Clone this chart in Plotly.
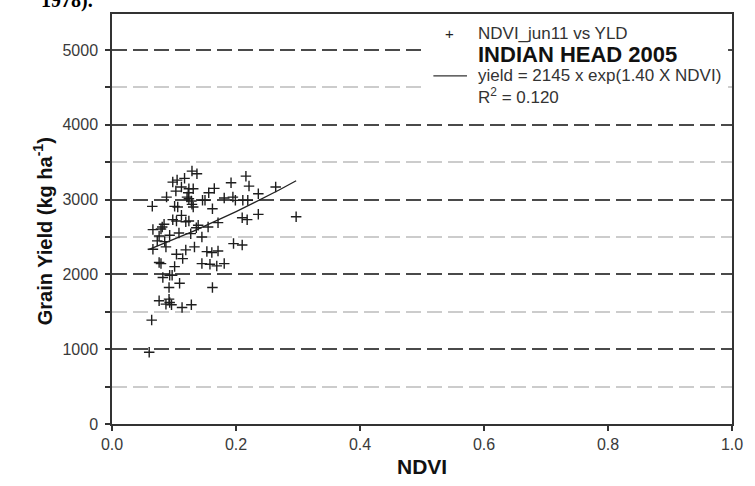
import numpy as np
import plotly.graph_objects as go

# ---- data ----
ndvi = [0.129,0.137,0.216,0.098,0.105,0.117,0.112,0.124,0.131,0.192,
        0.221,0.103,0.123,0.165,0.156,0.088,0.121,0.124,0.128,0.146,
        0.150,0.181,0.195,0.199,0.211,0.219,0.236,0.264,0.129,0.131,
        0.101,0.106,0.065,0.162,0.210,0.218,0.236,0.297,0.112,0.098,
        0.104,0.119,0.124,0.171,0.084,0.081,0.066,0.079,0.139,0.136,
        0.155,0.093,0.108,0.076,0.127,0.145,0.196,0.210,0.073,0.085,
        0.066,0.087,0.133,0.119,0.104,0.114,0.153,0.161,0.171,0.076,
        0.079,0.101,0.145,0.158,0.169,0.181,0.082,0.093,0.097,0.092,
        0.109,0.162,0.076,0.092,0.093,0.087,0.096,0.113,0.128,0.064,
        0.060]
yld = [3380,3344,3313,3233,3260,3283,3167,3144,3144,3224,
       3180,3113,3091,3149,3091,3033,3033,3011,2980,2989,
       2989,3020,3033,2989,2989,2989,3077,3167,2936,2900,
       2909,2900,2909,2877,2757,2731,2802,2771,2789,2731,
       2713,2704,2713,2691,2669,2633,2598,2607,2656,2624,
       2633,2522,2553,2513,2544,2500,2411,2393,2447,2438,
       2336,2367,2367,2327,2269,2211,2304,2291,2313,2158,
       2144,2104,2144,2136,2113,2144,1958,1989,1989,1824,
       1882,1824,1647,1669,1624,1602,1593,1558,1593,1389,
       958]

# regression reported in the legend: yield = a * exp(b * NDVI)
fit_a = 2145
fit_b = 1.40
fit_range = [0.059, 0.297]

x_ticks = [0.0, 0.2, 0.4, 0.6, 0.8, 1.0]
y_ticks = [0, 1000, 2000, 3000, 4000, 5000]

fit_x = np.linspace(fit_range[0], fit_range[1], 60)
fit_y = fit_a * np.exp(fit_b * fit_x)

# ---- layout geometry (pixels) ----
W, H = 755, 486
L, R, T, B = 112, 16, 13, 62
pw, ph = W - L - R, H - T - B


def px(x):
    return (x - L) / pw


def py(y):
    return (H - B - y) / ph


fig = go.Figure()
fig.add_trace(go.Scatter(
    x=ndvi, y=yld, mode="markers",
    marker=dict(symbol="cross-thin", size=7.5, line=dict(width=1.4, color="#1e1e1e")),
    showlegend=False, hoverinfo="x+y"))
fig.add_trace(go.Scatter(
    x=fit_x, y=fit_y, mode="lines",
    line=dict(color="#222222", width=1.3), showlegend=False))

tickfont = dict(family="Liberation Sans, Arial, sans-serif", size=16, color="#3a3a3a")

fig.update_layout(
    width=W, height=H,
    margin=dict(l=L, r=R, t=T, b=B),
    paper_bgcolor="white", plot_bgcolor="white",
    xaxis=dict(range=[0, 1], tickvals=x_ticks, ticktext=[f"{v:.1f}" for v in x_ticks],
               showgrid=False, zeroline=False, ticks="outside", ticklen=5,
               tickwidth=1.5, tickcolor="#333", showline=True, linecolor="#333",
               linewidth=1.5, mirror=True, tickfont=tickfont),
    yaxis=dict(range=[0, 5480], tickvals=y_ticks, showgrid=True,
               gridcolor="#4a4a4a", gridwidth=1.5, griddash="15px,6px",
               zeroline=False, ticks="outside", ticklen=5, tickwidth=1.5,
               tickcolor="#333", showline=True, linecolor="#333", linewidth=1.5,
               mirror=True, tickfont=tickfont, ticklabelstandoff=4,
               minor=dict(dtick=500, tick0=0, showgrid=True, gridcolor="#cccccc",
                          gridwidth=1.5, griddash="15px,6px", ticks="outside",
                          ticklen=5, tickcolor="#333")),
)

# white legend box covering grid lines
fig.add_shape(type="rect", xref="paper", yref="paper",
              x0=px(425), x1=px(735), y0=py(108), y1=py(14),
              fillcolor="white", line=dict(width=0), layer="above")
fig.add_shape(type="line", xref="paper", yref="paper",
              x0=px(437), x1=px(471), y0=py(75), y1=py(75),
              line=dict(color="#333", width=1.3), layer="above")

txt = dict(family="Liberation Sans, Arial, sans-serif", size=17, color="#333")
bold = dict(family="Liberation Sans, Arial, sans-serif", size=22, color="#111")
ann = [
    dict(text="+", x=px(453), y=py(33), xanchor="center", yanchor="middle",
         font=dict(family="Liberation Sans, Arial, sans-serif", size=15, color="#222")),
    dict(text="NDVI_jun11 vs YLD", x=px(480), y=py(33), xanchor="left", yanchor="middle", font=txt),
    dict(text="<b>INDIAN HEAD 2005</b>", x=px(480), y=py(54), xanchor="left", yanchor="middle", font=bold),
    dict(text="yield = 2145 x exp(1.40 X NDVI)", x=px(480), y=py(75), xanchor="left", yanchor="middle", font=txt),
    dict(text="R<sup>2</sup> = 0.120", x=px(480), y=py(95), xanchor="left", yanchor="middle", font=txt),
    dict(text="<b>Grain Yield (kg ha<sup>-1</sup>)</b>", x=px(42), y=py(231), textangle=-90,
         xanchor="center", yanchor="middle", font=dict(family="Liberation Sans, Arial, sans-serif", size=20, color="#111")),
    dict(text="<b>NDVI</b>", x=px(425), y=py(467), xanchor="center", yanchor="middle",
         font=dict(family="Liberation Sans, Arial, sans-serif", size=21, color="#111")),
    dict(text="<b>1978).</b>", x=px(38), y=py(13), xanchor="left", yanchor="bottom",
         font=dict(family="Liberation Serif, Times New Roman, serif", size=20, color="#000")),
]
for a in ann:
    a.update(xref="paper", yref="paper", showarrow=False)
    fig.add_annotation(**a)

fig.write_html("out.html")
